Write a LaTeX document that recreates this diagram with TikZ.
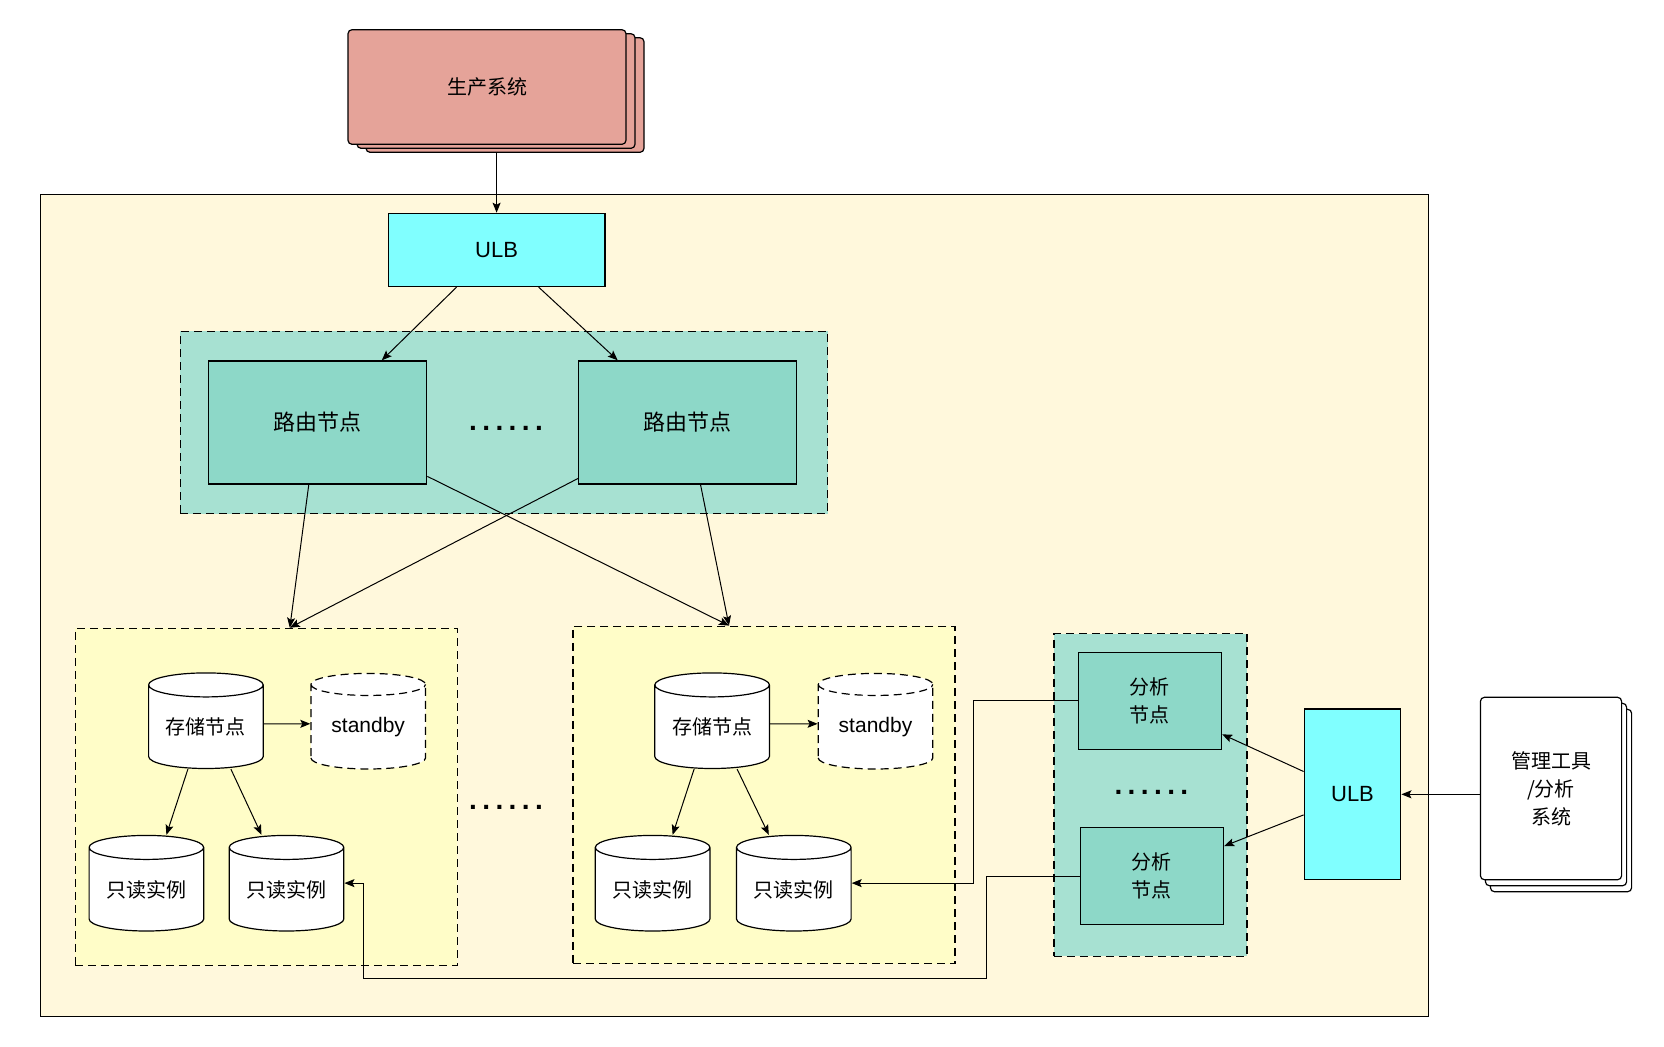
\documentclass[tikz,border=0pt]{standalone}
\usepackage{fontspec}
\setmainfont{Liberation Sans}
\newfontfamily\cjk{Noto Sans CJK SC}
\usetikzlibrary{arrows.meta,shapes.geometric}

\definecolor{prodred}{RGB}{229,163,153}
\definecolor{zonebg}{RGB}{255,248,220}
\definecolor{ulbcyan}{RGB}{128,255,255}
\definecolor{grpgreen}{RGB}{167,225,210}
\definecolor{nodegreen}{RGB}{141,216,200}
\definecolor{grpyellow}{RGB}{255,253,200}

\newcommand\sixdots{{\fontsize{14}{14}\selectfont\bfseries .\kern2.7pt.\kern2.7pt.\kern2.7pt.\kern2.7pt.\kern2.7pt.}}

\tikzset{
  box/.style={draw, line width=.6pt, inner sep=0pt, align=center},
  page/.style={box, fill=prodred, rounded corners=2pt, minimum width=139pt, minimum height=57.3pt},
  mpage/.style={box, fill=white, rounded corners=2pt, minimum width=70.6pt, minimum height=91.2pt},
  ulb/.style={box, fill=ulbcyan, font=\fontsize{11}{13}\selectfont},
  grpbox/.style={box, dash pattern=on 4pt off 2.5pt},
  router/.style={box, fill=nodegreen, minimum width=109pt, minimum height=61.5pt, font=\cjk\fontsize{11}{14}\selectfont},
  anode/.style={box, fill=nodegreen, minimum width=71.7pt, minimum height=48.3pt, font=\cjk\fontsize{10}{14}\selectfont},
  db/.style={box, cylinder, shape border rotate=90, aspect=0.3, fill=white, minimum width=57.3pt, minimum height=47.8pt, font=\cjk\fontsize{10}{12}\selectfont},
  standby/.style={db, dash pattern=on 4pt off 2.5pt, font=\fontsize{10.5}{12}\selectfont},
  arr/.style={line width=.5pt, -{Stealth[length=5pt,width=4pt,inset=1pt]}}
}

\begin{document}
\begin{tikzpicture}[x=.5pt, y=-.5pt]
    \useasboundingbox (0,0) rectangle (1664,1046);

    % outer zone
    \node (zone) at (734.4,605.6) [box, fill=zonebg, minimum width=694pt, minimum height=411.2pt] {};

    % production system
    \node (prod3) at (505,95) [page] {};
    \node (prod2) at (496,91) [page] {};
    \node (prod) at (487,87) [page, font=\cjk\fontsize{10}{12}\selectfont] {生产系统};

    % ULB
    \node (ulb1) at (496.6,249.9) [ulb, minimum width=108.3pt, minimum height=36.6pt] {ULB};
    \draw[arr] (ulb1.north |- prod3.south) -- (ulb1.north);

    % routers
    \node (rgrp) at (504,422.4) [grpbox, fill=grpgreen, minimum width=323.7pt, minimum height=91.2pt] {};
    \node (r1) at (317.8,422.4) [router] {路由节点};
    \node (r2) at (687.7,422.4) [router] {路由节点};
    \node (dots1) at (506,430) [anchor=base] {\sixdots};
    \draw[arr] ([xshift=-20pt]ulb1.south) -- ([xshift=32pt]r1.north);
    \draw[arr] ([xshift=21pt]ulb1.south) -- ([xshift=-35pt]r2.north);

    % storage group 1
    \node (g1) at (266.4,797) [grpbox, fill=grpyellow, minimum width=191pt, minimum height=168.7pt] {};
    \node (st1) at (205.9,727) [db] {存储节点};
    \node (sb1) at (368.2,727) [standby] {standby};
    \node (ro1) at (146.4,889.5) [db] {只读实例};
    \node (ro2) at (286.5,889.5) [db] {只读实例};
    \draw[arr] ([yshift=1.6pt]st1.east) -- ([yshift=1.6pt]sb1.west);
    \draw[arr] ([xshift=-9pt]st1.south) -- ([xshift=10pt]ro1.north);
    \draw[arr] ([xshift=12.5pt]st1.south) -- ([xshift=-12.5pt]ro2.north);

    \node (dots2) at (506,809) [anchor=base] {\sixdots};

    % storage group 2
    \node (g2) at (764,794.9) [grpbox, fill=grpyellow, minimum width=191pt, minimum height=168.7pt] {};
    \node (st2) at (712.1,727) [db] {存储节点};
    \node (sb2) at (875.5,727) [standby] {standby};
    \node (ro3) at (652.6,889.5) [db] {只读实例};
    \node (ro4) at (793.8,889.5) [db] {只读实例};
    \draw[arr] ([yshift=1.6pt]st2.east) -- ([yshift=1.6pt]sb2.west);
    \draw[arr] ([xshift=-9pt]st2.south) -- ([xshift=10pt]ro3.north);
    \draw[arr] ([xshift=12.5pt]st2.south) -- ([xshift=-12.5pt]ro4.north);

    % routers to storage
    \draw[arr] ([xshift=-4.5pt]r1.south) -- ([xshift=11.7pt]g1.north);
    \draw[arr] ([yshift=-27pt]r1.east) -- ([xshift=-17.5pt]g2.north);
    \draw[arr] ([yshift=-28pt]r2.west) -- ([xshift=11.7pt]g1.north);
    \draw[arr] ([xshift=6.4pt]r2.south) -- ([xshift=-17.5pt]g2.north);

    % analysis nodes
    \node (agrp) at (1150.4,794.8) [grpbox, fill=grpgreen, minimum width=96.5pt, minimum height=161.3pt] {};
    \node (an1) at (1149.9,700.9) [anode] {分析\\节点};
    \node (an2) at (1151.9,876) [anode] {分析\\节点};
    \node (dots3) at (1151.4,794) [anchor=base] {\sixdots};

    % ULB 2 and tools
    \node (ulb2) at (1352.5,794.3) [ulb, minimum width=48.3pt, minimum height=85.4pt] {ULB};
    \node (mgmt3) at (1561,800.5) [mpage] {};
    \node (mgmt2) at (1556,794.5) [mpage] {};
    \node (mgmt) at (1551,788.5) [mpage, font=\cjk\fontsize{10}{14}\selectfont] {管理工具\\/分析\\系统};

    \draw[arr] (mgmt.west |- ulb2.east) -- (ulb2.east);
    \draw[arr] ([yshift=11.4pt]ulb2.west) -- ([yshift=-16.7pt]an1.east);
    \draw[arr] ([yshift=-10.3pt]ulb2.west) -- ([yshift=15pt]an2.east);

    % analysis to read-only
    \coordinate (loop) at (363,978);
    \draw[arr] (an1.west) -- ++(-104,0) |- ([yshift=3.2pt]ro4.east);
    \draw[arr] (an2.west) -- ++(-93,0) |- (loop) |- ([yshift=3.2pt]ro2.east);
\end{tikzpicture}
\end{document}
